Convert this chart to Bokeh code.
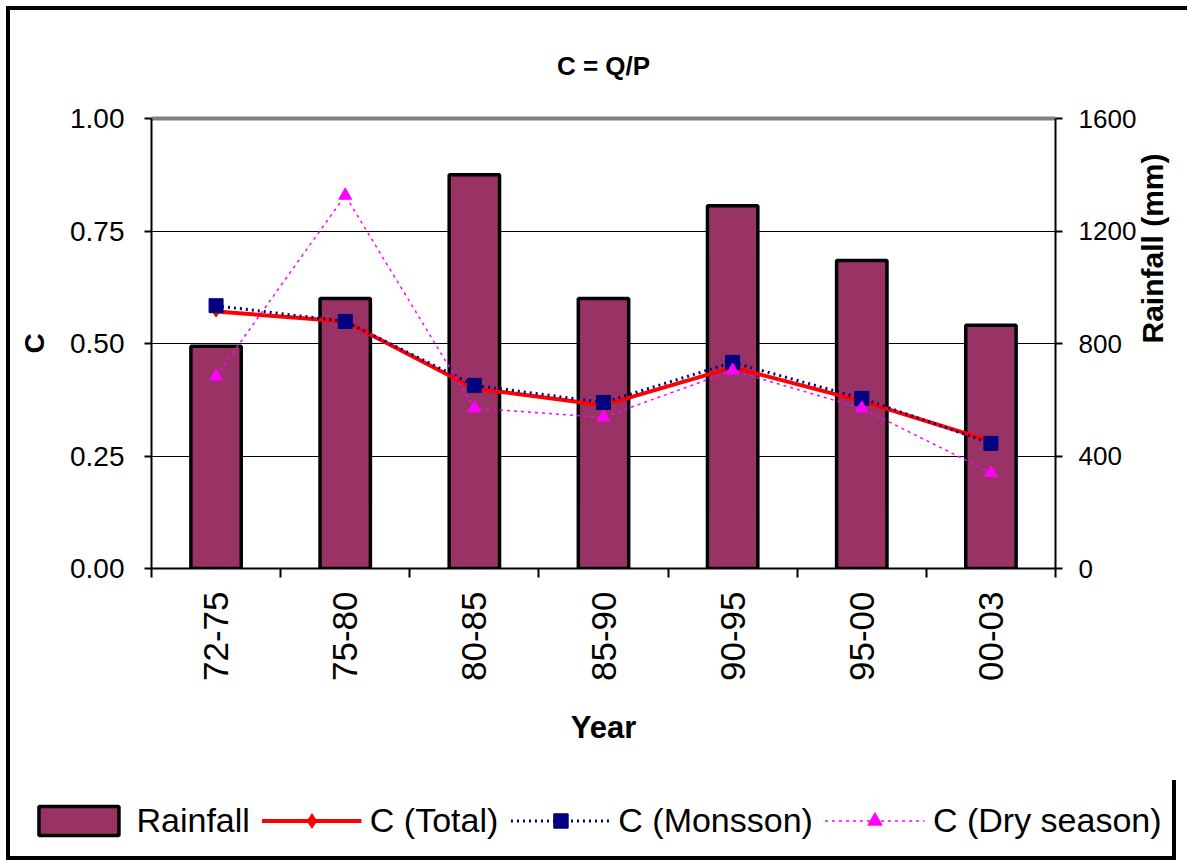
import math
from bokeh.plotting import figure
from bokeh.models import (Range1d, LinearAxis, FixedTicker, NumeralTickFormatter,
                          Legend, LegendItem)
from bokeh.embed import file_html
from bokeh.resources import INLINE

# ---- data ----
years = ["72-75", "75-80", "80-85", "85-90", "90-95", "95-00", "00-03"]
rainfall = [790, 960, 1400, 960, 1290, 1095, 865]
c_total = [0.571, 0.549, 0.400, 0.363, 0.447, 0.372, 0.283]
c_monsoon = [0.584, 0.549, 0.407, 0.369, 0.458, 0.378, 0.278]
c_dry = [0.427, 0.829, 0.356, 0.336, 0.440, 0.356, 0.213]
c_ticks = [0.0, 0.25, 0.5, 0.75, 1.0]
rain_ticks = [0, 400, 800, 1200, 1600]

FONT = "Liberation Sans"
idx = list(range(len(years)))
bounds = [i - 0.5 for i in range(len(years) + 1)]

BAR = dict(width=0.39, fill_color="#993366", line_color="black", line_width=3.5)
TOT_L = dict(line_color="#FF0000", line_width=4)
TOT_M = dict(marker="diamond", size=11, color="#FF0000")
MON_L = dict(line_color="#000080", line_width=3, line_dash="2 4")
MON_M = dict(marker="square", size=14, color="#000080")
DRY_L = dict(line_color="#FF00FF", line_width=1.5, line_dash="3 4")
DRY_M = dict(marker="triangle", size=13, color="#FF00FF")

p = figure(width=1170, height=770, frame_width=904, frame_height=450,
           min_border_left=141, min_border_right=125,
           min_border_top=108, min_border_bottom=212,
           x_range=Range1d(-0.5, len(years) - 0.5), y_range=Range1d(0, 1),
           output_backend="svg", toolbar_location=None, title="C = Q/P",
           background_fill_color="white", border_fill_color="white")
p.outline_line_color = None
p.styles = {"border": "4px solid black", "border-bottom": "none",
            "margin-left": "6px", "margin-top": "6px"}

p.title.align = "center"
p.title.text_font = FONT
p.title.text_font_size = "26px"
p.title.text_font_style = "bold"
p.title.text_color = "black"
p.title.text_line_height = 0.9
p.title.standoff = 76

p.extra_y_ranges = {"rain": Range1d(0, 1600)}

bars = p.vbar(x=idx, top=rainfall, y_range_name="rain", **BAR)
p.line(idx, c_total, **TOT_L)
p.scatter(idx, c_total, **TOT_M)
p.line(idx, c_monsoon, **MON_L)
p.scatter(idx, c_monsoon, **MON_M)
p.line(idx, c_dry, **DRY_L)
p.scatter(idx, c_dry, **DRY_M)

# grid
p.xgrid.visible = False
p.ygrid.ticker = FixedTicker(ticks=c_ticks)
p.ygrid.grid_line_color = "black"
p.ygrid.grid_line_width = 1

# x axis (bottom)
xa = p.below[0]
xa.ticker = FixedTicker(ticks=idx, minor_ticks=bounds)
xa.major_label_overrides = {i: y for i, y in enumerate(years)}
xa.major_label_orientation = math.pi / 2
xa.major_label_text_font = FONT
xa.major_label_text_font_size = "35px"
xa.major_label_text_color = "black"
xa.major_label_standoff = 14
xa.major_tick_line_color = None
xa.major_tick_out = 9
xa.minor_tick_out = 9
xa.minor_tick_in = 0
xa.minor_tick_line_color = "black"
xa.minor_tick_line_width = 2
xa.axis_line_width = 2
xa.axis_line_color = "black"
xa.axis_label = "Year"
xa.axis_label_text_font = FONT
xa.axis_label_text_font_size = "31px"
xa.axis_label_text_font_style = "bold"
xa.axis_label_text_color = "black"
xa.axis_label_standoff = 26

# left axis
ya = p.left[0]
ya.ticker = FixedTicker(ticks=c_ticks)
ya.formatter = NumeralTickFormatter(format="0.00")
ya.axis_label = "C"
ya.axis_label_text_font = FONT
ya.axis_label_text_font_size = "28px"
ya.axis_label_text_font_style = "bold"
ya.axis_label_text_color = "black"
ya.axis_label_standoff = 17
ya.major_label_text_font = FONT
ya.major_label_text_font_size = "28px"
ya.major_label_text_color = "black"
ya.major_label_standoff = 20
ya.major_tick_out = 7
ya.major_tick_in = 0
ya.major_tick_line_width = 2
ya.minor_tick_line_color = None
ya.axis_line_width = 2
ya.axis_line_color = "black"

# right axis
ra = LinearAxis(y_range_name="rain", ticker=FixedTicker(ticks=rain_ticks),
                axis_label="Rainfall (mm)")
ra.axis_label_text_font = FONT
ra.axis_label_text_font_size = "30px"
ra.axis_label_text_font_style = "bold"
ra.axis_label_text_color = "black"
ra.axis_label_standoff = 13
ra.axis_label_orientation = math.pi / 2
ra.major_label_text_font = FONT
ra.major_label_text_font_size = "26px"
ra.major_label_text_color = "black"
ra.major_label_standoff = 16
ra.major_tick_out = 7
ra.major_tick_in = 0
ra.major_tick_line_width = 2
ra.minor_tick_line_color = None
ra.axis_line_width = 2
ra.axis_line_color = "black"
p.add_layout(ra, "right")

# gray top line
ta = LinearAxis(ticker=FixedTicker(ticks=[]))
ta.axis_line_color = "#808080"
ta.axis_line_width = 4
ta.major_tick_line_color = None
ta.minor_tick_line_color = None
ta.major_label_text_font_size = "0px"
p.add_layout(ta, "above")

# ---- legend strip: an independent root so its frame spans the full width ----
# legend proxies carry no drawable data (NaN), they only supply the swatch styles
proxy = [math.nan]
leg = figure(width=1170, height=80, x_range=Range1d(0, 1), y_range=Range1d(0, 1),
             output_backend="svg", toolbar_location=None,
             x_axis_location=None, y_axis_location=None,
             min_border=0, background_fill_color="white",
             border_fill_color="white")
leg.outline_line_color = None
leg.grid.visible = False
leg.styles = {"border": "4px solid black", "border-top": "none",
              "margin-left": "6px"}
lb = leg.vbar(x=proxy, top=proxy, **BAR)
lt = [leg.line(proxy, proxy, **TOT_L), leg.scatter(proxy, proxy, **TOT_M)]
lm = [leg.line(proxy, proxy, **MON_L), leg.scatter(proxy, proxy, **MON_M)]
ld = [leg.line(proxy, proxy, **DRY_L), leg.scatter(proxy, proxy, **DRY_M)]

legend = Legend(items=[
    LegendItem(label="Rainfall", renderers=[lb]),
    LegendItem(label="C (Total)", renderers=lt),
    LegendItem(label="C (Monsson)", renderers=lm),
    LegendItem(label="C (Dry season)", renderers=ld),
], orientation="horizontal", location="center")
legend.glyph_width = 100
legend.glyph_height = 36
legend.label_text_font = FONT
legend.label_text_font_size = "34px"
legend.label_text_color = "black"
legend.label_standoff = 8
legend.spacing = 12
legend.padding = 4
legend.margin = 0
legend.border_line_color = None
legend.background_fill_alpha = 0
leg.add_layout(legend, "center")

open("out.html", "w").write(file_html([p, leg], INLINE))
